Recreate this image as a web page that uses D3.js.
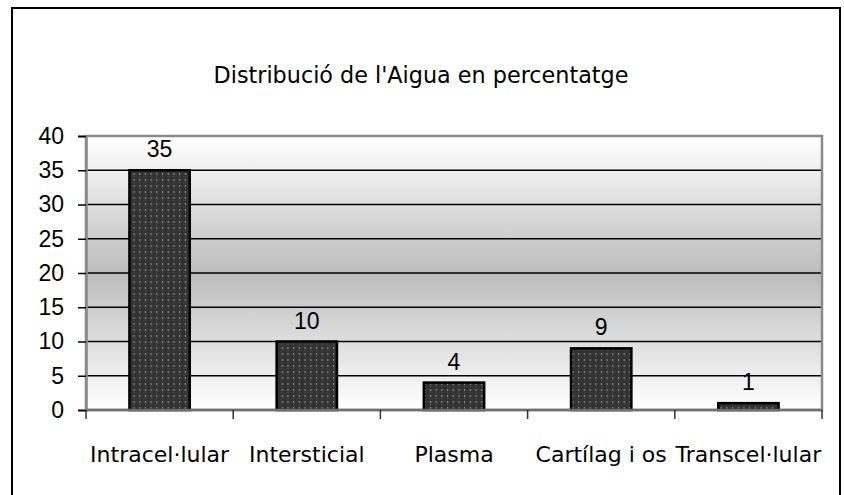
<!DOCTYPE html>
<html>
<head>
<meta charset="utf-8">
<script src="https://cdn.jsdelivr.net/npm/d3@7"></script>
<style>
  body { margin: 0; background: #fff; }
</style>
</head>
<body>
<div id="chart"></div>
<script>
// data
var categories = ["Intracel·lular", "Intersticial", "Plasma", "Cartílag i os", "Transcel·lular"];
var values = [35, 10, 4, 9, 1];
var yTicks = [0, 5, 10, 15, 20, 25, 30, 35, 40];
var title = "Distribució de l'Aigua en percentatge";

var W = 844, H = 495;
// plot area
var margin = {top: 136, right: 22, bottom: 85, left: 86},
    width = W - margin.left - margin.right,
    height = H - margin.top - margin.bottom;

var svg = d3.select("#chart")
  .append("svg")
    .attr("width", W)
    .attr("height", H);

// outer chart border (bottom edge is cut off by the picture)
svg.append("rect")
  .attr("x", 12).attr("y", 8)
  .attr("width", 828).attr("height", 520)
  .attr("fill", "none")
  .attr("stroke", "#000")
  .attr("stroke-width", 2);

// title
svg.append("text")
  .attr("x", 421)
  .attr("y", 83)
  .attr("text-anchor", "middle")
  .style("font-family", "'Comic Sans MS', 'DejaVu Sans', sans-serif")
  .style("font-size", "22.3px")
  .text(title);

var defs = svg.append("defs");

// background gradient: white at top/bottom, gray in the middle
var grad = defs.append("linearGradient")
  .attr("id", "bgGrad")
  .attr("x1", 0).attr("y1", 0).attr("x2", 0).attr("y2", 1);
grad.append("stop").attr("offset", "0%").attr("stop-color", "#ffffff");
grad.append("stop").attr("offset", "50%").attr("stop-color", "#bcbcbc");
grad.append("stop").attr("offset", "100%").attr("stop-color", "#ffffff");

// dotted pattern for the bars
var pat = defs.append("pattern")
  .attr("id", "dots")
  .attr("patternUnits", "userSpaceOnUse")
  .attr("width", 5.7).attr("height", 6);
pat.append("rect").attr("width", 5.7).attr("height", 6).attr("fill", "#333333");
pat.append("rect").attr("x", 2).attr("y", 1).attr("width", 1).attr("height", 2).attr("fill", "#9a9a9a");
pat.append("rect").attr("x", 2).attr("y", 4).attr("width", 1).attr("height", 1).attr("fill", "#555555");

var g = svg.append("g")
  .attr("transform", "translate(" + margin.left + "," + margin.top + ")");

// scales
var x = d3.scaleBand()
  .domain(categories)
  .range([0, width])
  .padding(0);

var y = d3.scaleLinear()
  .domain([0, 40])
  .range([height, 0]);

// plot background
g.append("rect")
  .attr("width", width)
  .attr("height", height)
  .attr("fill", "url(#bgGrad)");

// gridlines
g.selectAll(".grid")
  .data(yTicks.filter(function(d) { return d > 0 && d < 40; }))
  .enter().append("line")
    .attr("class", "grid")
    .attr("x1", 0).attr("x2", width)
    .attr("y1", function(d) { return y(d); })
    .attr("y2", function(d) { return y(d); })
    .attr("stroke", "#000")
    .attr("stroke-width", 1.5);

// plot frame
g.append("rect")
  .attr("width", width)
  .attr("height", height)
  .attr("fill", "none")
  .attr("stroke", "#8a8a8a")
  .attr("stroke-width", 2.5);

// bars
var barW = x.bandwidth() * 0.41;
g.selectAll(".bar")
  .data(values)
  .enter().append("rect")
    .attr("class", "bar")
    .attr("x", function(d, i) { return x(categories[i]) + (x.bandwidth() - barW) / 2; })
    .attr("y", function(d) { return y(d); })
    .attr("width", barW)
    .attr("height", function(d) { return height - y(d); })
    .attr("fill", "url(#dots)")
    .attr("stroke", "#000")
    .attr("stroke-width", 2.5);

// value labels
g.selectAll(".val")
  .data(values)
  .enter().append("text")
    .attr("class", "val")
    .attr("x", function(d, i) { return x(categories[i]) + x.bandwidth() / 2; })
    .attr("y", function(d) { return y(d) - 13; })
    .attr("text-anchor", "middle")
    .style("font-family", "'Liberation Sans', Arial, sans-serif")
    .style("font-size", "23px")
    .text(function(d) { return d; });

// Y axis
var yAxis = g.append("g")
  .call(d3.axisLeft(y).tickValues(yTicks).tickSize(8).tickPadding(14));
yAxis.select(".domain").attr("stroke", "#8a8a8a").attr("stroke-width", 2.5);
yAxis.selectAll(".tick line").attr("stroke", "#000").attr("stroke-width", 1.5);
yAxis.selectAll(".tick text")
  .style("font-family", "'Liberation Sans', Arial, sans-serif")
  .style("font-size", "23px")
  .attr("fill", "#000");

// X axis: ticks between categories, labels centred under them
var bounds = categories.map(function(c) { return x(c); }).concat([width]);
var xAxis = g.append("g")
  .attr("transform", "translate(0," + height + ")");
xAxis.append("line")
  .attr("x1", 0).attr("x2", width)
  .attr("stroke", "#707070")
  .attr("stroke-width", 2.5);
xAxis.selectAll(".xtick")
  .data(bounds)
  .enter().append("line")
    .attr("class", "xtick")
    .attr("x1", function(d) { return d; })
    .attr("x2", function(d) { return d; })
    .attr("y1", 0).attr("y2", 9)
    .attr("stroke", "#333")
    .attr("stroke-width", 1.5);
xAxis.selectAll(".xlabel")
  .data(categories)
  .enter().append("text")
    .attr("class", "xlabel")
    .attr("x", function(d) { return x(d) + x.bandwidth() / 2; })
    .attr("y", 52)
    .attr("text-anchor", "middle")
    .style("font-family", "'Comic Sans MS', 'DejaVu Sans', sans-serif")
    .style("font-size", "22px")
    .text(function(d) { return d; });
</script>
</body>
</html>
